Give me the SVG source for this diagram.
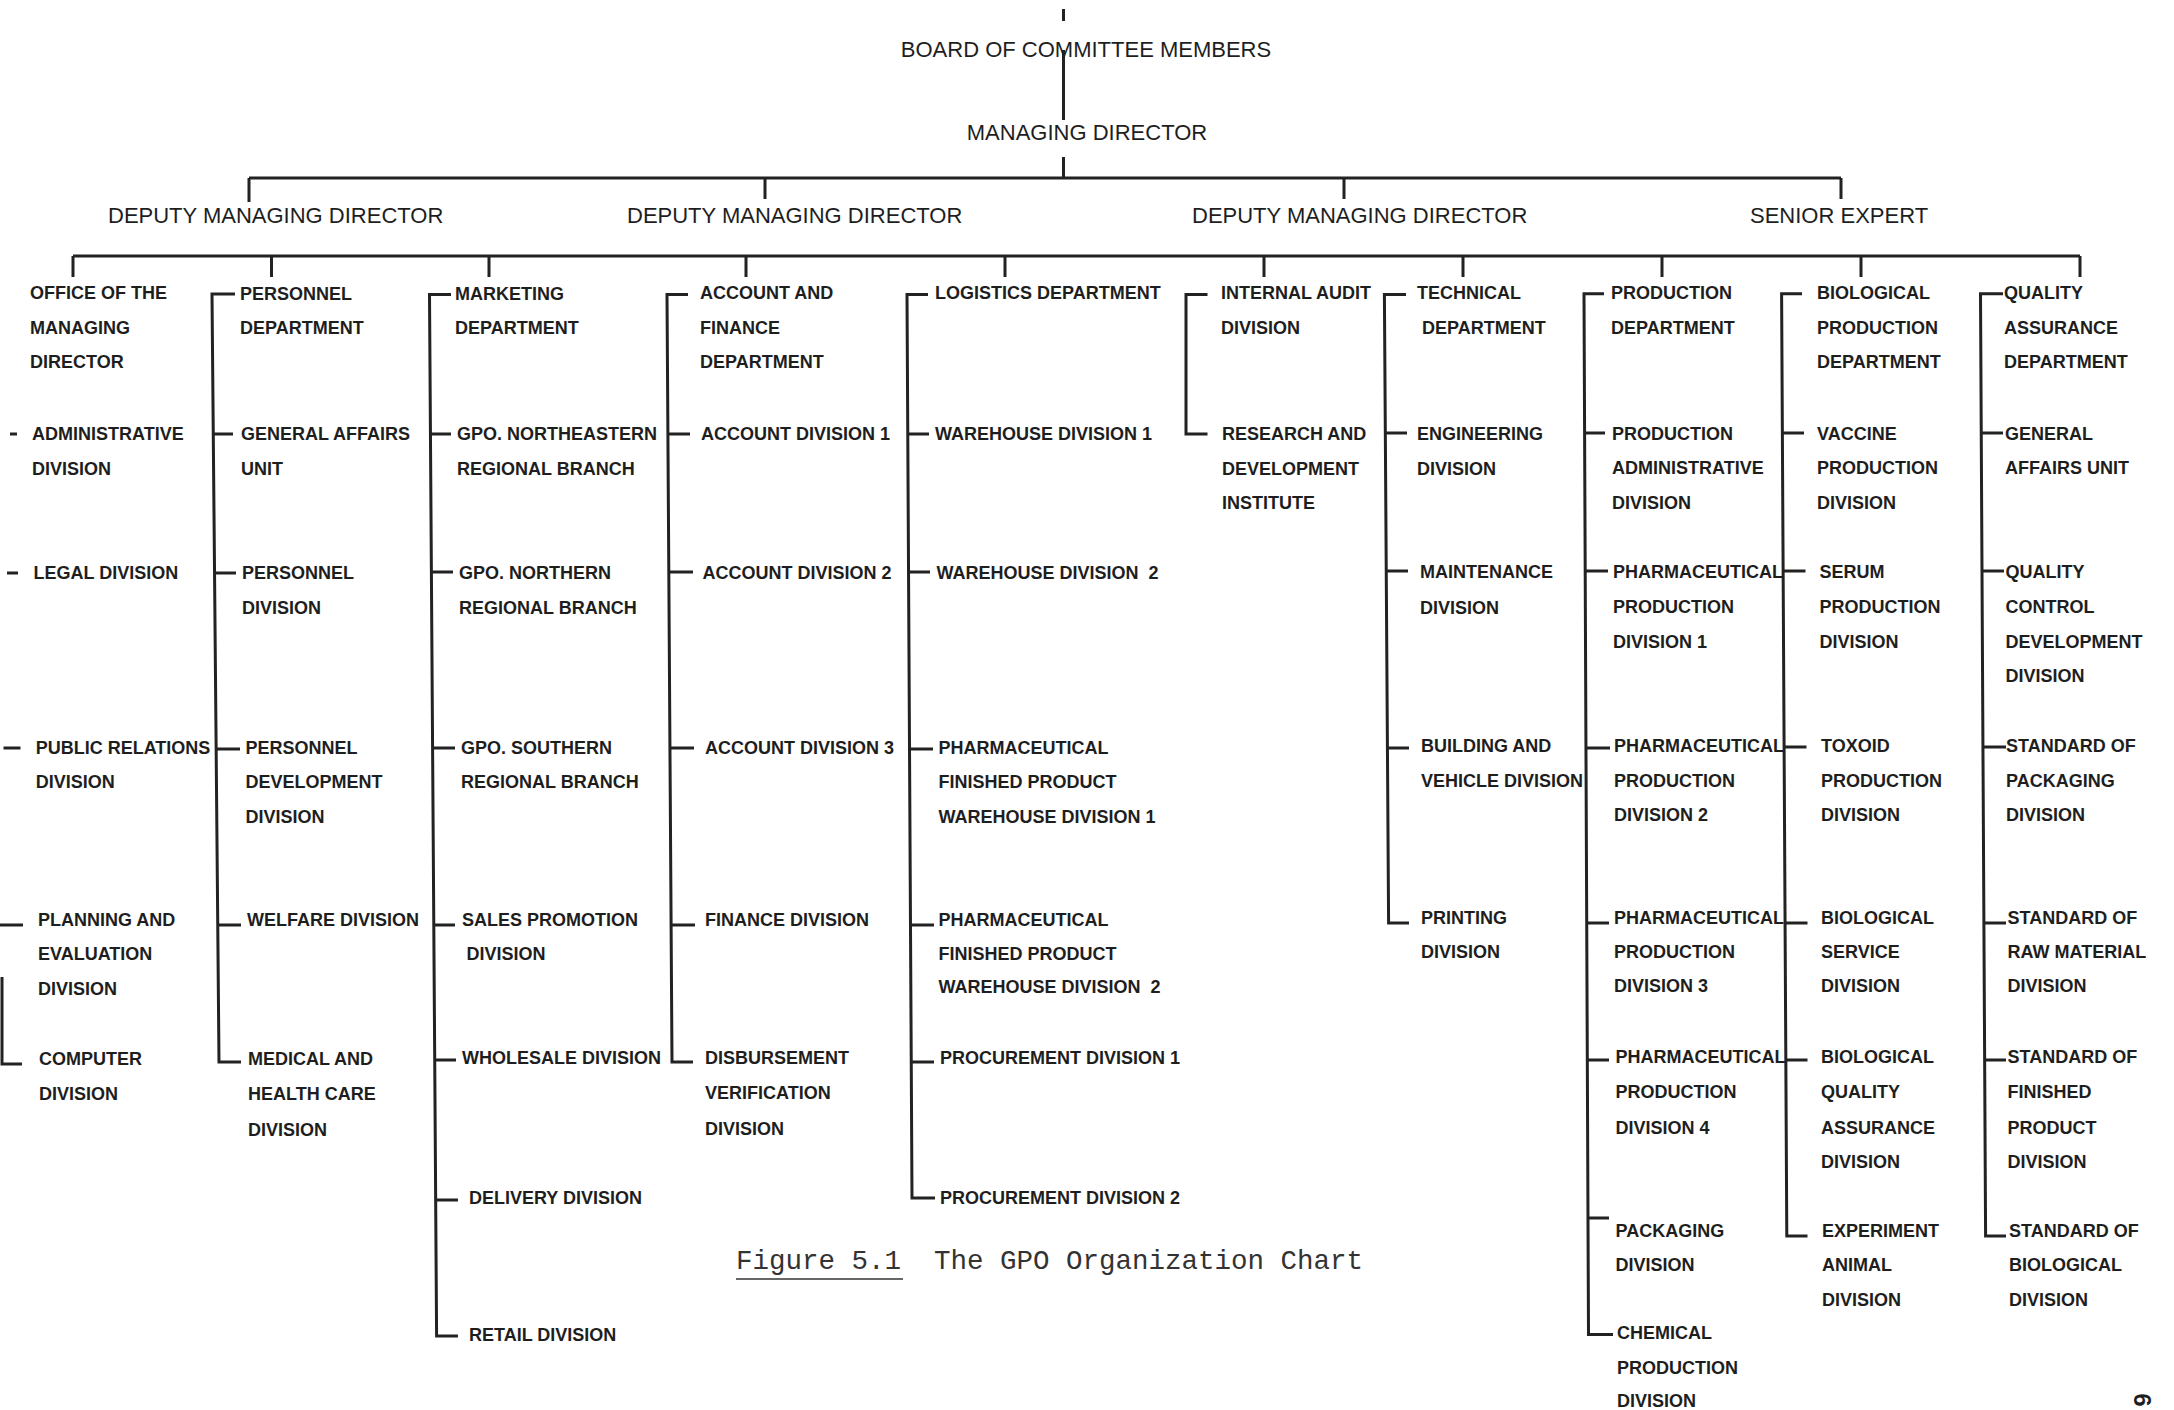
<svg xmlns="http://www.w3.org/2000/svg" width="2174" height="1410" viewBox="0 0 2174 1410">
<style>
.h{font-family:"Liberation Sans",Arial,sans-serif;font-size:22px;fill:#1e1e1e}
.t{font-family:"Liberation Sans",Arial,sans-serif;font-size:18px;font-weight:bold;fill:#1e1e1e}
.cap{font-family:"Liberation Mono","Courier New",monospace;font-size:27.5px;fill:#333}
.pn{font-family:"Liberation Sans",Arial,sans-serif;font-size:24px;font-weight:bold;fill:#1e1e1e}
.c{fill:none;stroke:#222;stroke-width:3}
</style>
<rect width="2174" height="1410" fill="#fff"/>
<g id="connectors" class="c">
<path d="M1063.5 9V21M1063.5 50V120M1063.5 157V178"/>
<path d="M249 178H1841M249 178V202M765 178V199M1344 178V199M1841 178V199"/>
<path d="M73 256H2080M73 256V277M271.5 256V277M489 256V277M746 256V277M1005 256V277M1264 256V277M1463 256V277M1662 256V277M1861 256V277M2080 256V277"/>
<path d="M10 434H17M7 573H18M3.5 748H20.5M0 925H23M2 977V1064H22"/>
<path d="M235 294H212L219 1062H241M213.3 434H233M214.5 573H236M216.1 749H240M217.8 925H241"/>
<path d="M451 294.5H429.5L436.6 1336H458M430.4 434H451M431.4 572H453M432.6 748H455M433.8 925H455M434.8 1060H456M435.7 1200H458"/>
<path d="M688 294.5H667L672 1062H693M667.9 434H690M668.8 572H693M670 748H694M671.1 925H695"/>
<path d="M928 294.5H907L912 1198H935M907.8 434H929M908.5 572H930M909.5 749H933M910.5 925H934M911.4 1062H934"/>
<path d="M1207.5 294.5H1186V434H1207.5"/>
<path d="M1406 294.5H1384.4L1388.6 923H1409M1385.3 433H1407M1386.3 571H1408M1387.5 748H1409"/>
<path d="M1604 293.7H1584L1588.5 1334.5H1613M1584.6 433H1605M1585.2 571H1608M1586 748H1610M1586.7 923H1609M1587.3 1060H1609M1588 1218H1609"/>
<path d="M1802 293.7H1781.6L1786.8 1236H1807.5M1782.4 433H1804M1783.1 571H1805.5M1784.1 747H1806.5M1785.1 923H1807.5M1785.8 1060H1807.5"/>
<path d="M2003 293.7H1980.5L1985.6 1236H2006M1981.3 433H2003M1982 571H2004M1983 747H2006M1984 923H2006M1984.7 1060H2006"/>
</g>
<g id="board"><text class="h" x="1086" y="57" text-anchor="middle">BOARD OF COMMITTEE MEMBERS</text></g>
<g id="md"><text class="h" x="1087" y="140" text-anchor="middle">MANAGING DIRECTOR</text></g>
<g id="dmd1"><text class="h" x="108" y="223">DEPUTY MANAGING DIRECTOR</text></g>
<g id="dmd2"><text class="h" x="627" y="223">DEPUTY MANAGING DIRECTOR</text></g>
<g id="dmd3"><text class="h" x="1192" y="223">DEPUTY MANAGING DIRECTOR</text></g>
<g id="senior"><text class="h" x="1750" y="223">SENIOR EXPERT</text></g>

<g id="office"><text class="t"><tspan x="30" y="299">OFFICE OF THE</tspan><tspan x="30" y="333.5">MANAGING</tspan><tspan x="30" y="368">DIRECTOR</tspan></text></g>
<g id="admin"><text class="t"><tspan x="32" y="440">ADMINISTRATIVE</tspan><tspan x="32" y="474.5">DIVISION</tspan></text></g>
<g id="legal"><text class="t"><tspan x="33.5" y="579">LEGAL DIVISION</tspan></text></g>
<g id="pr"><text class="t"><tspan x="35.7" y="753.5">PUBLIC RELATIONS</tspan><tspan x="35.7" y="787.5">DIVISION</tspan></text></g>
<g id="planning"><text class="t"><tspan x="38" y="925.5">PLANNING AND</tspan><tspan x="38" y="959.5">EVALUATION</tspan><tspan x="38" y="994.5">DIVISION</tspan></text></g>
<g id="computer"><text class="t"><tspan x="39" y="1064.5">COMPUTER</tspan><tspan x="39" y="1099.5">DIVISION</tspan></text></g>

<g id="personnel-dept"><text class="t"><tspan x="240" y="299.5">PERSONNEL</tspan><tspan x="240" y="333.5">DEPARTMENT</tspan></text></g>
<g id="ga-unit-1"><text class="t"><tspan x="241" y="440">GENERAL AFFAIRS</tspan><tspan x="241" y="474.5">UNIT</tspan></text></g>
<g id="personnel-div"><text class="t"><tspan x="242" y="579">PERSONNEL</tspan><tspan x="242" y="614">DIVISION</tspan></text></g>
<g id="personnel-dev"><text class="t"><tspan x="245.5" y="753.5">PERSONNEL</tspan><tspan x="245.5" y="787.5">DEVELOPMENT</tspan><tspan x="245.5" y="822.5">DIVISION</tspan></text></g>
<g id="welfare"><text class="t"><tspan x="247" y="925.5">WELFARE DIVISION</tspan></text></g>
<g id="medical"><text class="t"><tspan x="248" y="1064.5">MEDICAL AND</tspan><tspan x="248" y="1100">HEALTH CARE</tspan><tspan x="248" y="1135.5">DIVISION</tspan></text></g>

<g id="marketing"><text class="t"><tspan x="455" y="299.5">MARKETING</tspan><tspan x="455" y="333.5">DEPARTMENT</tspan></text></g>
<g id="ne-branch"><text class="t"><tspan x="457" y="440">GPO. NORTHEASTERN</tspan><tspan x="457" y="474.5">REGIONAL BRANCH</tspan></text></g>
<g id="n-branch"><text class="t"><tspan x="459" y="579">GPO. NORTHERN</tspan><tspan x="459" y="614">REGIONAL BRANCH</tspan></text></g>
<g id="s-branch"><text class="t"><tspan x="461" y="753.5">GPO. SOUTHERN</tspan><tspan x="461" y="787.5">REGIONAL BRANCH</tspan></text></g>
<g id="sales"><text class="t"><tspan x="462" y="925.5">SALES PROMOTION</tspan><tspan x="466.5" y="959.5">DIVISION</tspan></text></g>
<g id="wholesale"><text class="t"><tspan x="462" y="1063.5">WHOLESALE DIVISION</tspan></text></g>
<g id="delivery"><text class="t"><tspan x="469" y="1203.5">DELIVERY DIVISION</tspan></text></g>
<g id="retail"><text class="t"><tspan x="469" y="1341">RETAIL DIVISION</tspan></text></g>

<g id="account-dept"><text class="t"><tspan x="700" y="299">ACCOUNT AND</tspan><tspan x="700" y="333.5">FINANCE</tspan><tspan x="700" y="368">DEPARTMENT</tspan></text></g>
<g id="account-1"><text class="t"><tspan x="701" y="439.5">ACCOUNT DIVISION 1</tspan></text></g>
<g id="account-2"><text class="t"><tspan x="702.4" y="579">ACCOUNT DIVISION 2</tspan></text></g>
<g id="account-3"><text class="t"><tspan x="705" y="753.5">ACCOUNT DIVISION 3</tspan></text></g>
<g id="finance"><text class="t"><tspan x="705" y="925.5">FINANCE DIVISION</tspan></text></g>
<g id="disbursement"><text class="t"><tspan x="705" y="1064">DISBURSEMENT</tspan><tspan x="705" y="1098.5">VERIFICATION</tspan><tspan x="705" y="1134.5">DIVISION</tspan></text></g>

<g id="logistics"><text class="t"><tspan x="935" y="299">LOGISTICS DEPARTMENT</tspan></text></g>
<g id="warehouse-1"><text class="t"><tspan x="935" y="439.5">WAREHOUSE DIVISION 1</tspan></text></g>
<g id="warehouse-2"><text class="t" xml:space="preserve"><tspan x="936.5" y="579">WAREHOUSE DIVISION  2</tspan></text></g>
<g id="pfp-warehouse-1"><text class="t"><tspan x="938.5" y="753.5">PHARMACEUTICAL</tspan><tspan x="938.5" y="787.5">FINISHED PRODUCT</tspan><tspan x="938.5" y="822.5">WAREHOUSE DIVISION 1</tspan></text></g>
<g id="pfp-warehouse-2"><text class="t" xml:space="preserve"><tspan x="938.5" y="925.5">PHARMACEUTICAL</tspan><tspan x="938.5" y="959.5">FINISHED PRODUCT</tspan><tspan x="938.5" y="993">WAREHOUSE DIVISION  2</tspan></text></g>
<g id="procurement-1"><text class="t"><tspan x="940" y="1064">PROCUREMENT DIVISION 1</tspan></text></g>
<g id="procurement-2"><text class="t"><tspan x="940" y="1203.5">PROCUREMENT DIVISION 2</tspan></text></g>

<g id="internal-audit"><text class="t"><tspan x="1221" y="299">INTERNAL AUDIT</tspan><tspan x="1221" y="333.5">DIVISION</tspan></text></g>
<g id="rd-institute"><text class="t"><tspan x="1222" y="439.5">RESEARCH AND</tspan><tspan x="1222" y="474.5">DEVELOPMENT</tspan><tspan x="1222" y="508.5">INSTITUTE</tspan></text></g>

<g id="technical"><text class="t"><tspan x="1417" y="299">TECHNICAL</tspan><tspan x="1422" y="333.5">DEPARTMENT</tspan></text></g>
<g id="engineering"><text class="t"><tspan x="1417" y="439.5">ENGINEERING</tspan><tspan x="1417" y="474.5">DIVISION</tspan></text></g>
<g id="maintenance"><text class="t"><tspan x="1420" y="578">MAINTENANCE</tspan><tspan x="1420" y="613.5">DIVISION</tspan></text></g>
<g id="building"><text class="t"><tspan x="1421" y="752">BUILDING AND</tspan><tspan x="1421" y="786.5">VEHICLE DIVISION</tspan></text></g>
<g id="printing"><text class="t"><tspan x="1421" y="924">PRINTING</tspan><tspan x="1421" y="958">DIVISION</tspan></text></g>

<g id="production-dept"><text class="t"><tspan x="1611" y="299">PRODUCTION</tspan><tspan x="1611" y="333.5">DEPARTMENT</tspan></text></g>
<g id="prod-admin"><text class="t"><tspan x="1612" y="439.5">PRODUCTION</tspan><tspan x="1612" y="474">ADMINISTRATIVE</tspan><tspan x="1612" y="508.5">DIVISION</tspan></text></g>
<g id="pharma-1"><text class="t"><tspan x="1613" y="577.5">PHARMACEUTICAL</tspan><tspan x="1613" y="613">PRODUCTION</tspan><tspan x="1613" y="647.5">DIVISION 1</tspan></text></g>
<g id="pharma-2"><text class="t"><tspan x="1614" y="752">PHARMACEUTICAL</tspan><tspan x="1614" y="786.5">PRODUCTION</tspan><tspan x="1614" y="821">DIVISION 2</tspan></text></g>
<g id="pharma-3"><text class="t"><tspan x="1614" y="924">PHARMACEUTICAL</tspan><tspan x="1614" y="957.5">PRODUCTION</tspan><tspan x="1614" y="992">DIVISION 3</tspan></text></g>
<g id="pharma-4"><text class="t"><tspan x="1615.5" y="1062.5">PHARMACEUTICAL</tspan><tspan x="1615.5" y="1097.5">PRODUCTION</tspan><tspan x="1615.5" y="1133.5">DIVISION 4</tspan></text></g>
<g id="packaging"><text class="t"><tspan x="1615.5" y="1236.5">PACKAGING</tspan><tspan x="1615.5" y="1271">DIVISION</tspan></text></g>
<g id="chemical"><text class="t"><tspan x="1617" y="1339">CHEMICAL</tspan><tspan x="1617" y="1373.5">PRODUCTION</tspan><tspan x="1617" y="1406.5">DIVISION</tspan></text></g>

<g id="bio-dept"><text class="t"><tspan x="1817" y="299">BIOLOGICAL</tspan><tspan x="1817" y="333.5">PRODUCTION</tspan><tspan x="1817" y="368">DEPARTMENT</tspan></text></g>
<g id="vaccine"><text class="t"><tspan x="1817" y="439.5">VACCINE</tspan><tspan x="1817" y="474">PRODUCTION</tspan><tspan x="1817" y="508.5">DIVISION</tspan></text></g>
<g id="serum"><text class="t"><tspan x="1819.5" y="577.5">SERUM</tspan><tspan x="1819.5" y="613">PRODUCTION</tspan><tspan x="1819.5" y="647.5">DIVISION</tspan></text></g>
<g id="toxoid"><text class="t"><tspan x="1821" y="752">TOXOID</tspan><tspan x="1821" y="786.5">PRODUCTION</tspan><tspan x="1821" y="821">DIVISION</tspan></text></g>
<g id="bio-service"><text class="t"><tspan x="1821" y="924">BIOLOGICAL</tspan><tspan x="1821" y="958">SERVICE</tspan><tspan x="1821" y="992">DIVISION</tspan></text></g>
<g id="bio-qa"><text class="t"><tspan x="1821" y="1062.5">BIOLOGICAL</tspan><tspan x="1821" y="1097.5">QUALITY</tspan><tspan x="1821" y="1133.5">ASSURANCE</tspan><tspan x="1821" y="1167.5">DIVISION</tspan></text></g>
<g id="experiment"><text class="t"><tspan x="1822" y="1236.5">EXPERIMENT</tspan><tspan x="1822" y="1271">ANIMAL</tspan><tspan x="1822" y="1305.5">DIVISION</tspan></text></g>

<g id="qa-dept"><text class="t"><tspan x="2004" y="299">QUALITY</tspan><tspan x="2004" y="333.5">ASSURANCE</tspan><tspan x="2004" y="367.5">DEPARTMENT</tspan></text></g>
<g id="ga-unit-2"><text class="t"><tspan x="2005" y="439.5">GENERAL</tspan><tspan x="2005" y="474">AFFAIRS UNIT</tspan></text></g>
<g id="qc-dev"><text class="t"><tspan x="2005.4" y="577.5">QUALITY</tspan><tspan x="2005.4" y="612.5">CONTROL</tspan><tspan x="2005.4" y="647.5">DEVELOPMENT</tspan><tspan x="2005.4" y="682">DIVISION</tspan></text></g>
<g id="std-packaging"><text class="t"><tspan x="2006" y="752">STANDARD OF</tspan><tspan x="2006" y="786.5">PACKAGING</tspan><tspan x="2006" y="821">DIVISION</tspan></text></g>
<g id="std-raw"><text class="t"><tspan x="2007.5" y="924">STANDARD OF</tspan><tspan x="2007.5" y="958">RAW MATERIAL</tspan><tspan x="2007.5" y="992">DIVISION</tspan></text></g>
<g id="std-finished"><text class="t"><tspan x="2007.5" y="1062.5">STANDARD OF</tspan><tspan x="2007.5" y="1097.5">FINISHED</tspan><tspan x="2007.5" y="1133.5">PRODUCT</tspan><tspan x="2007.5" y="1167.5">DIVISION</tspan></text></g>
<g id="std-bio"><text class="t"><tspan x="2009" y="1236.5">STANDARD OF</tspan><tspan x="2009" y="1271">BIOLOGICAL</tspan><tspan x="2009" y="1305.5">DIVISION</tspan></text></g>

<g id="caption"><text class="cap" x="736" y="1269" xml:space="preserve">Figure 5.1  The GPO Organization Chart</text><path d="M736 1279H903" stroke="#333" stroke-width="1.6"/></g>
<g id="page-number"><text class="pn" text-anchor="middle" transform="translate(2134 1400) rotate(90)">6</text></g>
</svg>
